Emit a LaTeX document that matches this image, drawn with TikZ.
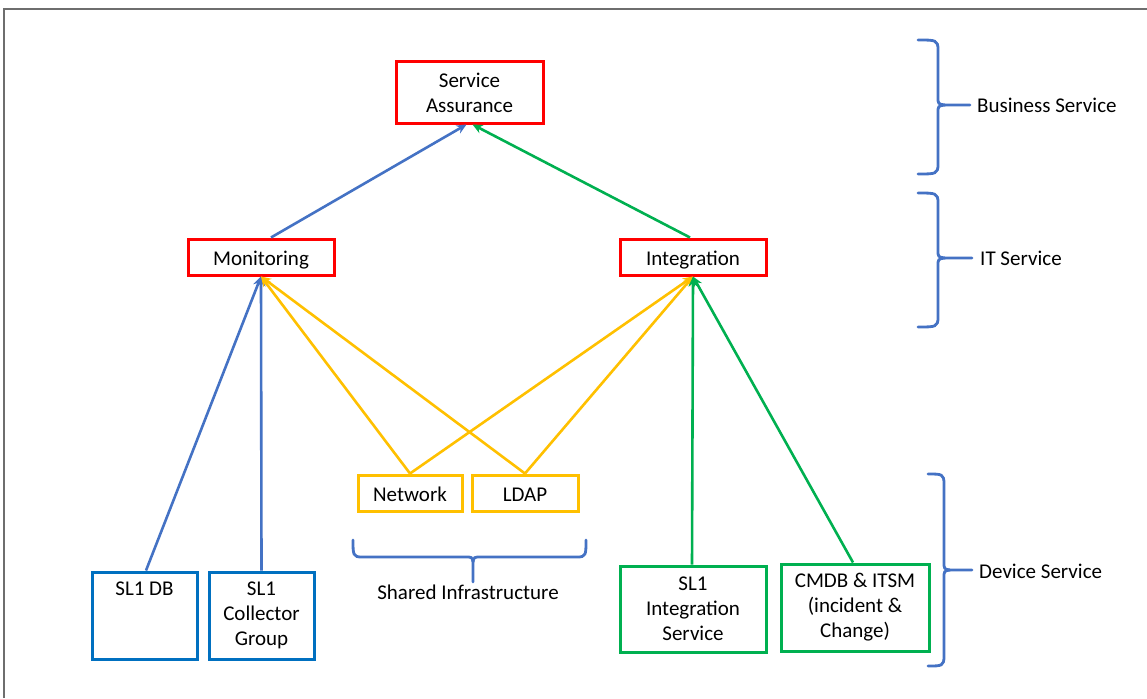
\documentclass[tikz,border=0pt]{standalone}
\usepackage{fontspec}
\setmainfont{Carlito}
\usetikzlibrary{arrows.meta}
\definecolor{cred}{HTML}{FF0000}
\definecolor{cblue}{HTML}{4472C4}
\definecolor{cbox}{HTML}{0070C0}
\definecolor{cyel}{HTML}{FFC000}
\definecolor{cgreen}{HTML}{00B050}
\definecolor{cframe}{HTML}{6E6E6E}
\tikzset{
  txt/.style={font=\fontsize{21}{25}\selectfont},
  box/.style={draw, line width=3pt, inner sep=0pt, txt, align=center},
  redbox/.style={box, draw=cred},
  yelbox/.style={box, draw=cyel},
  bluebox/.style={box, draw=cbox},
  greenbox/.style={box, draw=cgreen},
  oneline/.style={text depth=0pt, text height=16pt},
  conn/.style={line width=2.6pt, -{Stealth[length=10pt,width=9pt]}},
  bracestyle/.style={draw=cblue, line width=2.8pt, line cap=round},
  lbl/.style={txt, anchor=west, inner sep=0pt},
}
\begin{document}
\begin{tikzpicture}[x=1pt,y=-1pt]
\useasboundingbox (0,0) rectangle (1147,698);
% frame
\draw[cframe, line width=2pt] (4,698) -- (4,9) -- (1147,9);

% nodes
\node[redbox, minimum width=147pt, minimum height=61pt] (sa) at (469.5,92.5) {Service\\Assurance};
\node[redbox, oneline, minimum width=146pt, minimum height=36pt] (mon) at (261,257) {Monitoring};
\node[redbox, oneline, minimum width=146pt, minimum height=36pt] (int) at (693,257) {Integration};
\node[yelbox, oneline, minimum width=104pt, minimum height=36pt] (net) at (410,493) {Network};
\node[yelbox, oneline, minimum width=106pt, minimum height=36pt] (ldap) at (525,493) {LDAP};
\node[bluebox, minimum width=105pt, minimum height=87pt] (db) at (144.5,615.5) {};
\node[anchor=north, txt, inner sep=0pt] (dbt) at (144.5,582) {SL1 DB};
\node[bluebox, minimum width=105pt, minimum height=87pt] (col) at (261.5,615.5) {SL1\\Collector\\Group};
\node[greenbox, minimum width=146pt, minimum height=86pt] (sis) at (693,609) {SL1\\Integration\\Service};
\node[greenbox, minimum width=148pt, minimum height=87pt] (cmdb) at (855,607.5) {CMDB \& ITSM\\(incident \&\\Change)};

% connectors
\draw[conn, cblue] ([xshift=10pt]mon.north) -- ([xshift=-3pt]sa.south);
\draw[conn, cgreen] ([xshift=-3pt]int.north) -- ([xshift=3pt]sa.south);
\draw[conn, cblue] ([xshift=1.5pt]db.north) -- (mon.south);
\draw[conn, cblue] (col.north) -- (mon.south);
\draw[conn, cyel] (net.north) -- (mon.south);
\draw[conn, cyel] (ldap.north) -- (mon.south);
\draw[conn, cyel] (net.north) -- (int.south);
\draw[conn, cyel] (ldap.north) -- (int.south);
\draw[conn, cgreen] ([xshift=-1pt]sis.north) -- (int.south);
\draw[conn, cgreen] ([xshift=-2pt]cmdb.north) -- (int.south);

% braces
\draw[bracestyle] (918,40) .. controls (936,40) and (938,40) .. (938,50) -- (938,97) .. controls (938,104) .. (945,105) -- (970,105);
\draw[bracestyle] (945,105) .. controls (938,106) .. (938,113) -- (938,164) .. controls (938,174) and (936,174) .. (918,174);
\node[lbl] (bs) at (977,105) {Business Service};

\draw[bracestyle] (918,193) .. controls (936,193) and (938,193) .. (938,203) -- (938,250) .. controls (938,257) .. (945,258) -- (972,258);
\draw[bracestyle] (945,258) .. controls (938,259) .. (938,266) -- (938,317) .. controls (938,327) and (936,327) .. (918,327);
\node[lbl] (its) at (980,258) {IT Service};

\draw[bracestyle] (928,474) .. controls (942,474) and (944,474) .. (944,484) -- (944,562) .. controls (944,569) .. (950,570) -- (972,570);
\draw[bracestyle] (950,570) .. controls (944,571) .. (944,578) -- (944,656) .. controls (944,666) and (942,666) .. (928,666);
\node[lbl] (ds) at (979,571) {Device Service};

\draw[bracestyle] (353,540) .. controls (353,555) and (353,557) .. (362,557) -- (465,557) .. controls (472,557) .. (473,562) -- (473,582);
\draw[bracestyle] (473,562) .. controls (474,557) .. (481,557) -- (577,557) .. controls (586,557) and (586,555) .. (586,540);
\node[txt, inner sep=0pt] (shi) at (468,592) {Shared Infrastructure};
\end{tikzpicture}
\end{document}
